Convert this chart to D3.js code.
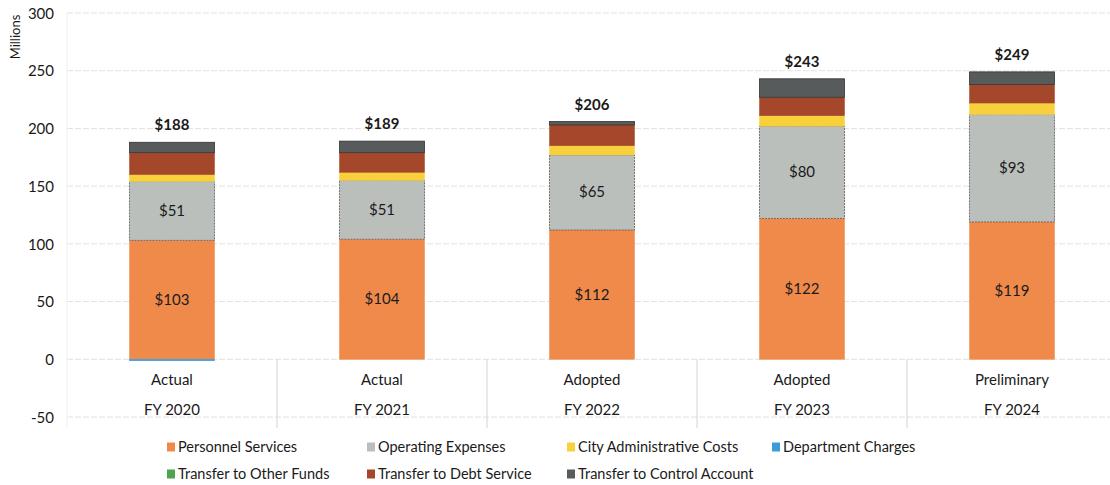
<!DOCTYPE html>
<html>
<head>
<meta charset="utf-8">
<script src="https://cdn.jsdelivr.net/npm/d3@7/dist/d3.min.js"></script>
<style>
  body { margin: 0; background: #fff; }
  text { font-family: Lato, "Open Sans", sans-serif; fill: #1a1a1a; }
</style>
</head>
<body>
<svg id="chart" width="1110" height="485"></svg>
<script>
// chart data
var phases = ['Actual', 'Actual', 'Adopted', 'Adopted', 'Preliminary'];
var years = ['FY 2020', 'FY 2021', 'FY 2022', 'FY 2023', 'FY 2024'];
var seriesNames = ['Personnel Services', 'Operating Expenses', 'City Administrative Costs',
    'Department Charges', 'Transfer to Other Funds', 'Transfer to Debt Service', 'Transfer to Control Account'];
var personnel = [103, 104, 112, 122, 119];
var operating = [51, 51, 65, 80, 93];
var cityAdmin = [6, 7, 8, 9, 10];
var deptCharges = [-1, 0, 0, 0, 0];
var otherFunds = [0, 0, 0, 0, 0];
var debtService = [19, 17, 18, 16, 16];
var controlAcct = [9, 10, 3, 16, 11];
var totals = [188, 189, 206, 243, 249];
var yTicks = [-50, 0, 50, 100, 150, 200, 250, 300];

var colors = ['#F08A4B', '#BBBFBC', '#F7D03C', '#3D9BDB', '#4DA54D', '#A4472B', '#575B5B'];
var strokes = ['#F08A4B', '#555', '#F7D03C', '#3D9BDB', '#4DA54D', '#A4472B', '#333'];

var allSeries = [personnel, operating, cityAdmin, deptCharges, otherFunds, debtService, controlAcct];

var svg = d3.select('#chart');
var left = 67, right = 1117;

var x = d3.scaleBand().domain(d3.range(years.length)).range([left, right]).paddingInner(0.595).paddingOuter(0.2975);
var band = d3.scaleBand().domain(d3.range(years.length)).range([left, right]);
var y = d3.scaleLinear().domain([-50, 300]).range([417, 13]);

// gridlines
svg.append('g').selectAll('line').data(yTicks).join('line')
    .attr('x1', left).attr('x2', 1110)
    .attr('y1', function(d) { return y(d); }).attr('y2', function(d) { return y(d); })
    .attr('stroke', '#e2e2e2').attr('stroke-width', 1)
    .attr('stroke-dasharray', '6,2');

// y axis labels
var yAxis = d3.axisLeft(y).tickValues(yTicks).tickSize(0).tickPadding(0)
    .tickFormat(function(d) { return String(d); });
var ya = svg.append('g').attr('transform', 'translate(54,0)').call(yAxis);
ya.select('.domain').remove();
ya.selectAll('text').style('font-size', '15px').style('font-family', 'Lato, sans-serif')
    .attr('fill', '#1a1a1a').attr('dy', '0.35em');

svg.append('text')
    .attr('transform', 'translate(20,37) rotate(-90)')
    .attr('text-anchor', 'middle')
    .style('font-size', '13px')
    .text('Millions');

// stacks
var stackData = years.map(function(yr, i) {
    var pos = 0, neg = 0;
    return allSeries.map(function(s, k) {
        var v = s[i], y0, y1;
        if (v >= 0) { y0 = pos; y1 = pos + v; pos = y1; }
        else { y1 = neg; y0 = neg + v; neg = y0; }
        return {i: i, k: k, v: v, y0: y0, y1: y1};
    });
});

var bars = svg.append('g');
stackData.forEach(function(col) {
    bars.selectAll(null).data(col.filter(function(d) { return d.v !== 0; })).join('rect')
        .attr('x', function(d) { return x(d.i); })
        .attr('width', x.bandwidth())
        .attr('y', function(d) { return y(d.y1); })
        .attr('height', function(d) { return Math.max(1.5, y(d.y0) - y(d.y1)); })
        .attr('fill', function(d) { return colors[d.k]; })
        .attr('stroke', function(d) { return strokes[d.k]; })
        .attr('stroke-width', function(d) { return d.k === 1 || d.k === 6 ? 0.8 : 0.5; })
        .attr('stroke-dasharray', function(d) { return d.k === 1 ? '2,1' : null; });
});

// inner labels
function innerLabel(series, k) {
    svg.append('g').selectAll('text').data(series).join('text')
        .attr('x', function(d, i) { return x(i) + x.bandwidth() / 2; })
        .attr('y', function(d, i) { return y(stackData[i][k].y0 + d / 2) + 5; })
        .attr('text-anchor', 'middle')
        .style('font-size', '15px')
        .text(function(d) { return '$' + d; });
}
innerLabel(personnel, 0);
innerLabel(operating, 1);

// totals
svg.append('g').selectAll('text').data(totals).join('text')
    .attr('x', function(d, i) { return x(i) + x.bandwidth() / 2; })
    .attr('y', function(d) { return y(d) - 12; })
    .attr('text-anchor', 'middle')
    .style('font-size', '15px')
    .style('font-weight', 'bold')
    .text(function(d) { return '$' + d; });

// category axis
var cat = svg.append('g');
d3.range(1, years.length).forEach(function(i) {
    cat.append('line')
        .attr('x1', band(i)).attr('x2', band(i)).attr('y1', y(0)).attr('y2', 428)
        .attr('stroke', '#d4d4d4').attr('stroke-width', 1);
});
cat.append('line')
    .attr('x1', left).attr('x2', left).attr('y1', 13).attr('y2', 428)
    .attr('stroke', '#f0f0f0').attr('stroke-width', 1);
cat.selectAll('.ph').data(phases).join('text')
    .attr('x', function(d, i) { return band(i) + band.bandwidth() / 2; })
    .attr('y', 385)
    .attr('text-anchor', 'middle')
    .style('font-size', '15px')
    .text(function(d) { return d; });
cat.selectAll('.yr').data(years).join('text')
    .attr('x', function(d, i) { return band(i) + band.bandwidth() / 2; })
    .attr('y', 415)
    .attr('text-anchor', 'middle')
    .style('font-size', '15px')
    .text(function(d) { return d; });

// legend
var legendX = [167, 367, 567, 772];
var legend = svg.append('g');
seriesNames.forEach(function(name, k) {
    var col = k < 4 ? k : k - 4;
    var row = k < 4 ? 0 : 1;
    var g = legend.append('g').attr('transform', 'translate(' + legendX[col] + ',' + (447 + row * 27) + ')');
    g.append('rect').attr('x', 0).attr('y', -4.5).attr('width', 8).attr('height', 9)
        .attr('fill', colors[k]);
    g.append('text').attr('x', 11).attr('y', 5)
        .style('font-size', '14.5px')
        .text(name);
});
</script>
</body>
</html>
